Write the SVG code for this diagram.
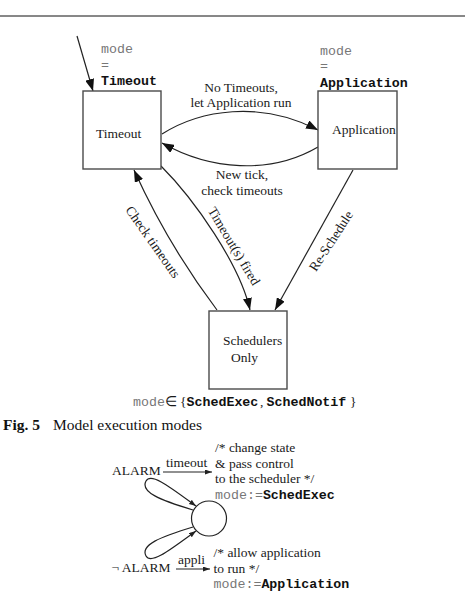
<svg xmlns="http://www.w3.org/2000/svg" width="465" height="607" viewBox="0 0 465 607">
<defs>
<marker id="ah" markerUnits="userSpaceOnUse" markerWidth="13" markerHeight="9" refX="12" refY="4.5" orient="auto">
<path d="M0,0 L12,4.5 L0,9 z" fill="#111"/>
</marker>
<marker id="sa" markerUnits="userSpaceOnUse" markerWidth="8" markerHeight="6" refX="7" refY="2.5" orient="auto">
<path d="M0,0 L7,2.5 L0,5 z" fill="#222"/>
</marker>
</defs>
<style>
.box{fill:#fff;stroke:#4a4a4a;stroke-width:1.4}
.edge{fill:none;stroke:#222;stroke-width:1.2}
.t{font-family:"Liberation Serif","Times New Roman",serif;font-size:13.5px;fill:#1a1a1a}
.m{font-family:"Liberation Mono","Courier New",monospace;font-size:13.3px;fill:#777}
.mb{font-family:"Liberation Mono","Courier New",monospace;font-size:13.3px;font-weight:bold;fill:#111}
.c{font-family:"Liberation Serif","Times New Roman",serif;font-size:15.5px;fill:#111}
</style>
<rect width="465" height="607" fill="#fff"/>
<line x1="0" y1="16" x2="465" y2="16" stroke="#111" stroke-width="1"/>

<g id="connectors">
<path class="edge" d="M77,36 L93,91" marker-end="url(#ah)"/>
<path class="edge" d="M162,134 C200,110 260,100 318,130" marker-end="url(#ah)"/>
<path class="edge" d="M318,147 C270,175 210,170 162,143" marker-end="url(#ah)"/>
<path class="edge" d="M217,310 Q168,245 134,170" marker-end="url(#ah)"/>
<path class="edge" d="M161,166 C195,200 240,265 250,310" marker-end="url(#ah)"/>
<path class="edge" d="M353,170 L275,310" marker-end="url(#ah)"/>
<text class="t" x="241" y="92" text-anchor="middle">No Timeouts,</text>
<text class="t" x="241" y="107" text-anchor="middle">let Application run</text>
<text class="t" x="242" y="179" text-anchor="middle">New tick,</text>
<text class="t" x="242" y="195" text-anchor="middle">check timeouts</text>
<text class="t" transform="translate(153,242) rotate(55)" x="0" y="4.5" text-anchor="middle">Check timeouts</text>
<text class="t" transform="translate(234,246) rotate(59)" x="0" y="4.5" text-anchor="middle">Timeout(s) fired</text>
<text class="t" transform="translate(331,241) rotate(-57)" x="0" y="4.5" text-anchor="middle">Re-Schedule</text>
</g>

<g id="node-timeout">
<rect class="box" x="83" y="91" width="78" height="78"/>
<text class="t" x="96" y="138">Timeout</text>
<text class="m" x="101" y="53">mode</text>
<text class="m" x="101" y="69">=</text>
<text class="mb" x="101" y="85">Timeout</text>
</g>

<g id="node-application">
<rect class="box" x="318" y="91" width="79" height="78"/>
<text class="t" x="332" y="134">Application</text>
<text class="m" x="320" y="55">mode</text>
<text class="m" x="320" y="70">=</text>
<text class="mb" x="320" y="87">Application</text>
</g>

<g id="node-schedulers">
<rect class="box" x="209" y="311" width="78" height="78"/>
<text class="t" x="223" y="345">Schedulers</text>
<text class="t" x="231" y="362">Only</text>
<text x="133" y="406"><tspan class="m" font-size="12.6">mode</tspan><tspan x="165" class="t" font-size="13">∈</tspan><tspan x="180" class="t" font-size="15">{</tspan><tspan x="186.5" class="mb">SchedExec</tspan><tspan x="260" class="t">,</tspan><tspan x="266.5" class="mb">SchedNotif</tspan><tspan x="350" class="t" font-size="15">}</tspan></text>
</g>

<g id="caption">
<text class="c" x="3" y="430"><tspan font-weight="bold">Fig. 5</tspan><tspan x="53">Model execution modes</tspan></text>
</g>

<g id="automaton">
<circle cx="209" cy="518.5" r="17.5" fill="#fff" stroke="#222" stroke-width="1.2"/>
<path class="edge" d="M193,510 C160,500 140,492 146,481 C151,472 170,487 196,506" marker-end="url(#sa)"/>
<path class="edge" d="M193,527 C160,537 140,545 146,556 C151,565 170,550 196,531" marker-end="url(#sa)"/>
<text class="t" font-size="13" x="112" y="475">ALARM</text>
<text class="t" font-size="13" x="166" y="467">timeout</text>
<path class="edge" d="M163,472 L212,472" stroke-width="0.9" marker-end="url(#sa)"/>
<text class="t" font-size="13" x="215" y="452">/* change state</text>
<text class="t" font-size="13" x="215" y="467.5">&amp; pass control</text>
<text class="t" font-size="13" x="215" y="483">to the scheduler */</text>
<text x="215" y="498.5"><tspan class="m" font-size="13">mode:=</tspan><tspan class="mb" font-size="13">SchedExec</tspan></text>
<text class="t" font-size="13" x="111.5" y="572">¬ ALARM</text>
<text class="t" font-size="13" x="178" y="563.5">appli</text>
<path class="edge" d="M176,569 L210,569" stroke-width="0.9" marker-end="url(#sa)"/>
<text class="t" font-size="13" x="213.5" y="557">/* allow application</text>
<text class="t" font-size="13" x="213.5" y="572.5">to run */</text>
<text x="213.5" y="587.5"><tspan class="m" font-size="13">mode:=</tspan><tspan class="mb" font-size="13">Application</tspan></text>
</g>
</svg>
